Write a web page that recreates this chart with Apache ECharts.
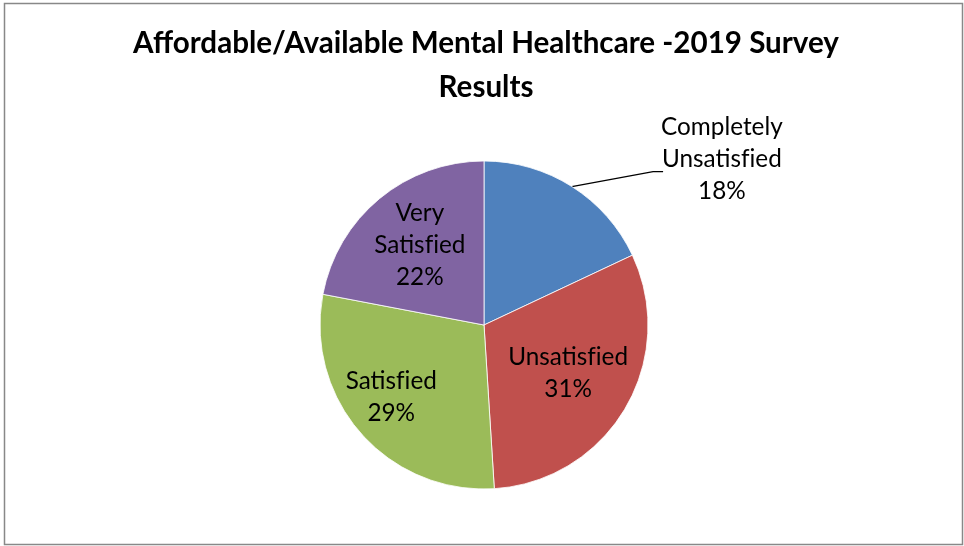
<!DOCTYPE html>
<html>
<head>
<meta charset="utf-8">
<style>
  html, body { margin: 0; padding: 0; background: #ffffff; }
  #chart { width: 964px; height: 546px; }
</style>
<script src="https://cdn.jsdelivr.net/npm/echarts@6/dist/echarts.min.js"></script>
</head>
<body>
<div id="chart"></div>
<script>
// Survey responses, clockwise from 12 o'clock
const categories = ['Completely\nUnsatisfied', 'Unsatisfied', 'Satisfied', 'Very\nSatisfied'];
const percents = [18, 31, 29, 22];
const sliceColors = ['#4F81BD', '#C0504D', '#9BBB59', '#8064A2'];

// nudges for the in-slice labels, relative to the library's default inside spot
const insideNudge = { 1: [11, 5], 2: [-29, 16], 3: [-10, -14] };

const FONT = 'Lato, "Open Sans", sans-serif';

// keep "f" and "i" as separate glyphs
const noLigature = s => s.replace(/fi/g, 'f\u200Ci');

const chart = echarts.init(document.getElementById('chart'), null, { renderer: 'canvas' });

chart.setOption({
  backgroundColor: '#ffffff',
  animation: false,
  title: {
    text: 'Affordable/Available Mental Healthcare -2019 Survey\nResults',
    left: 481,
    top: 16,
    textAlign: 'center',
    textStyle: {
      fontFamily: FONT,
      fontWeight: 'bold',
      fontSize: 29.6,
      lineHeight: 44,
      color: '#000000'
    }
  },
  graphic: [{
    type: 'rect',
    shape: { x: 4.5, y: 3.5, width: 958, height: 541 },
    style: { fill: 'none', stroke: '#888888', lineWidth: 1.5 },
    silent: true,
    z: -1
  }],
  series: [{
    type: 'pie',
    center: [484, 325],
    radius: [0, 164],
    startAngle: 90,
    clockwise: true,
    avoidLabelOverlap: false,
    itemStyle: { borderColor: '#ffffff', borderWidth: 0.8 },
    emphasis: { disabled: true },
    label: {
      show: true,
      position: 'inside',
      formatter: p => noLigature(p.name) + '\n' + p.value + '%',
      fontFamily: FONT,
      fontSize: 24.3,
      lineHeight: 32,
      color: '#000000',
      align: 'center'
    },
    labelLine: { show: false },
    labelLayout: function (params) {
      if (params.dataIndex === 0) {
        // outside label with a leader line from the slice's outer edge
        const p0 = params.labelLinePoints ? params.labelLinePoints[0] : [572, 186];
        const cx = p0[0] + 150;
        const cy = p0[1] - 27;
        const halfW = params.labelRect.width / 2;
        const left = cx - halfW + 2;
        return {
          x: cx,
          y: cy,
          align: 'center',
          verticalAlign: 'middle',
          labelLinePoints: [p0, [left - 10, p0[1] - 15], [left, p0[1] - 15]]
        };
      }
      const n = insideNudge[params.dataIndex] || [0, 0];
      return { dx: n[0], dy: n[1] };
    },
    data: percents.map((v, i) => ({
      name: categories[i],
      value: v,
      itemStyle: { color: sliceColors[i] },
      label: i === 0 ? { position: 'outside' } : {},
      labelLine: i === 0 ? { show: true, length: 20, length2: 10, lineStyle: { color: '#000000', width: 1.3 } } : { show: false }
    }))
  }]
});
</script>
</body>
</html>
